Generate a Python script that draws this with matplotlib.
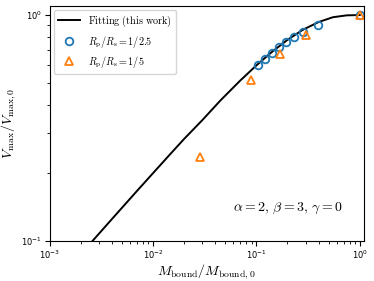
import matplotlib
matplotlib.use("Agg")
import matplotlib.pyplot as plt
from matplotlib.font_manager import FontProperties
import numpy as np

# fitting curve
fit_m = [0.0024, 0.004, 0.007, 0.01, 0.015, 0.02, 0.03, 0.045, 0.07, 0.1,
         0.14, 0.2, 0.28, 0.4, 0.55, 0.75, 1.0]
fit_v = [0.0956, 0.1245, 0.166, 0.199, 0.2444, 0.2823, 0.342, 0.4185, 0.5128, 0.598,
         0.6838, 0.7764, 0.859, 0.931, 0.978, 0.997, 1.0]

# R_p/R_s = 1/2.5
m_25 = [0.1036, 0.122, 0.1416, 0.1656, 0.1935, 0.229, 0.282, 0.394, 1.0]
v_25 = [0.599, 0.640, 0.681, 0.721, 0.759, 0.799, 0.843, 0.903, 1.0]

# R_p/R_s = 1/5
m_5 = [0.0287, 0.0888, 0.168, 0.304, 1.0]
v_5 = [0.234, 0.515, 0.672, 0.818, 1.0]

cm = FontProperties(math_fontfamily='cm', size=10)
cm_leg = FontProperties(math_fontfamily='cm', size=7.3)

fig = plt.figure(figsize=(3.74, 2.81), dpi=100)
ax = fig.add_axes([0.1324, 0.1434, 0.8409, 0.8363])

ax.plot(fit_m, fit_v, color='k', lw=1.4, label=r'$\mathrm{Fitting\ (this\ work)}$')
ax.plot(m_25, v_25, 'o', mfc='none', mec='tab:blue', mew=1.3, ms=5.5,
        label=r'$R_\mathrm{p}/R_\mathrm{s} = 1/2.5$')
ax.plot(m_5, v_5, '^', mfc='none', mec='tab:orange', mew=1.3, ms=5.5,
        label=r'$R_\mathrm{p}/R_\mathrm{s} = 1/5$')

ax.set_xscale('log')
ax.set_yscale('log')
ax.set_xlim(1e-3, 1.1)
ax.set_ylim(0.1, 1.1)
ax.tick_params(labelsize=6, pad=2)

ax.set_xlabel(r'$M_\mathrm{bound}/M_\mathrm{bound,0}$', fontproperties=cm, labelpad=1)
ax.set_ylabel(r'$V_\mathrm{max}/V_\mathrm{max,0}$', fontproperties=cm, labelpad=2)

ax.text(0.933, 0.139, r'$\alpha=2,\,\beta=3,\,\gamma=0$', transform=ax.transAxes,
        ha='right', va='center', fontproperties=FontProperties(math_fontfamily='cm', size=10))

ax.legend(loc='upper left', prop=cm_leg, numpoints=1, handlelength=2.2,
          borderaxespad=0.4, labelspacing=0.45)

fig.savefig('out.png', dpi=100)
